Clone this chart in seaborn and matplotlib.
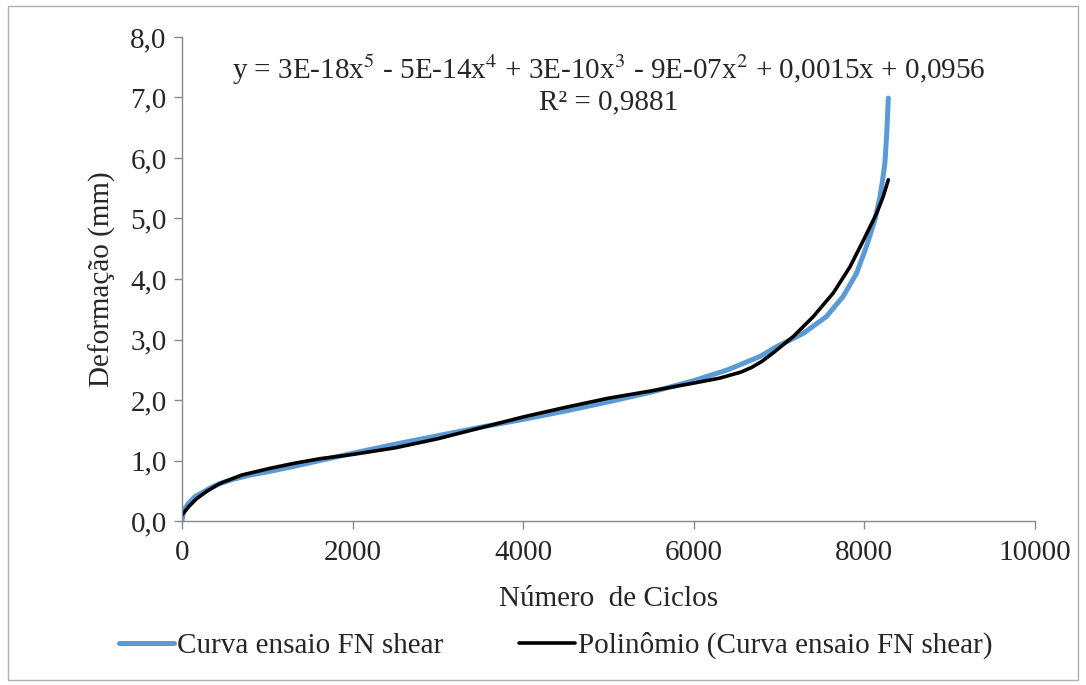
import pandas as pd
import matplotlib.pyplot as plt
import seaborn as sns
from matplotlib.patches import Rectangle

# Curva ensaio FN shear
ciclos_ensaio = [0, 15, 40, 75, 150, 250, 350, 445, 600, 800, 1030, 1300, 1620, 2000, 2500,
                 3000, 3500, 4000, 4500, 5000, 5500, 6000, 6400, 6776, 6970, 7283, 7556, 7750,
                 7907, 8025, 8124, 8183, 8215, 8241, 8262, 8281]
deform_ensaio = [0.0, 0.14, 0.22, 0.29, 0.4, 0.48, 0.56, 0.62, 0.69, 0.76, 0.82, 0.9, 1.0, 1.12,
                 1.27, 1.41, 1.55, 1.68, 1.82, 1.97, 2.13, 2.32, 2.5, 2.72, 2.88, 3.1, 3.38,
                 3.71, 4.09, 4.54, 4.98, 5.36, 5.65, 5.92, 6.4, 6.99]

# Polinomio (trendline), also
ciclos_poli = [0, 80, 172, 300, 445, 700, 1030, 1300, 1618, 2000, 2500, 3000, 3500, 4000,
               4500, 5000, 5500, 6000, 6300, 6550, 6680, 6800, 6932, 7167, 7402, 7636, 7831,
               7989, 8145, 8220, 8281]
deform_poli = [0.1, 0.24, 0.37, 0.5, 0.62, 0.76, 0.87, 0.95, 1.03, 1.1, 1.21, 1.36, 1.54, 1.72,
               1.88, 2.03, 2.15, 2.28, 2.36, 2.46, 2.54, 2.64, 2.78, 3.05, 3.38, 3.77, 4.2,
               4.64, 5.09, 5.36, 5.64]

x_ticks = [0, 2000, 4000, 6000, 8000, 10000]
y_ticks = [0, 1, 2, 3, 4, 5, 6, 7, 8]

sns.set_style('white')
plt.rcParams['font.family'] = ['Liberation Serif', 'DejaVu Serif']
plt.rcParams['mathtext.fontset'] = 'stix'

df_ensaio = pd.DataFrame({'x': ciclos_ensaio, 'y': deform_ensaio})
df_poli = pd.DataFrame({'x': ciclos_poli, 'y': deform_poli})

fig = plt.figure(figsize=(10.86, 6.85), dpi=100)
ax = fig.add_axes([0.1676, 0.2394, 0.7854, 0.7066])

sns.lineplot(data=df_ensaio, x='x', y='y', ax=ax, color='#5B9BD5', linewidth=3.6,
             sort=False, estimator=None, label='Curva ensaio FN shear')
sns.lineplot(data=df_poli, x='x', y='y', ax=ax, color='black', linewidth=2.6,
             sort=False, estimator=None, label='Polinômio (Curva ensaio FN shear)')
for ln in ax.get_lines():
    ln.set_solid_joinstyle('round')
    ln.set_solid_capstyle('round')

ax.set_xlim(0, 10000)
ax.set_ylim(0, 8)
ax.set_xticks(x_ticks)
ax.set_yticks(y_ticks)
ax.set_yticklabels([f'{v:.1f}'.replace('.', ',') for v in y_ticks])
ax.tick_params(axis='both', labelsize=21, direction='out', length=6, width=1,
               color='#898989', bottom=True, left=True)
ax.tick_params(axis='x', pad=8)
ax.tick_params(axis='y', pad=5)
for side in ['top', 'right']:
    ax.spines[side].set_visible(False)
for side in ['left', 'bottom']:
    ax.spines[side].set_color('#898989')
    ax.spines[side].set_linewidth(1)

ax.set_xlabel('Número  de Ciclos', fontsize=21, labelpad=14)
ax.set_ylabel('Deformação (mm)', fontsize=21, labelpad=10)

ax.text(0.5, 0.968,
        'y = 3E-18x$^{5}$ - 5E-14x$^{4}$ + 3E-10x$^{3}$ - 9E-07x$^{2}$ + 0,0015x + 0,0956\nR² = 0,9881',
        transform=ax.transAxes, ha='center', va='top', fontsize=21, linespacing=1.1)

ax.legend(loc='upper center', bbox_to_anchor=(0.438, -0.175), ncol=2, frameon=False,
          fontsize=21, handlelength=1.9, handletextpad=0.1, columnspacing=2.6)

fig.patches.append(Rectangle((0.007, 0.008), 0.986, 0.983, transform=fig.transFigure,
                             fill=False, edgecolor='#b0b0b0', linewidth=1))

fig.savefig('out.png', dpi=100)
